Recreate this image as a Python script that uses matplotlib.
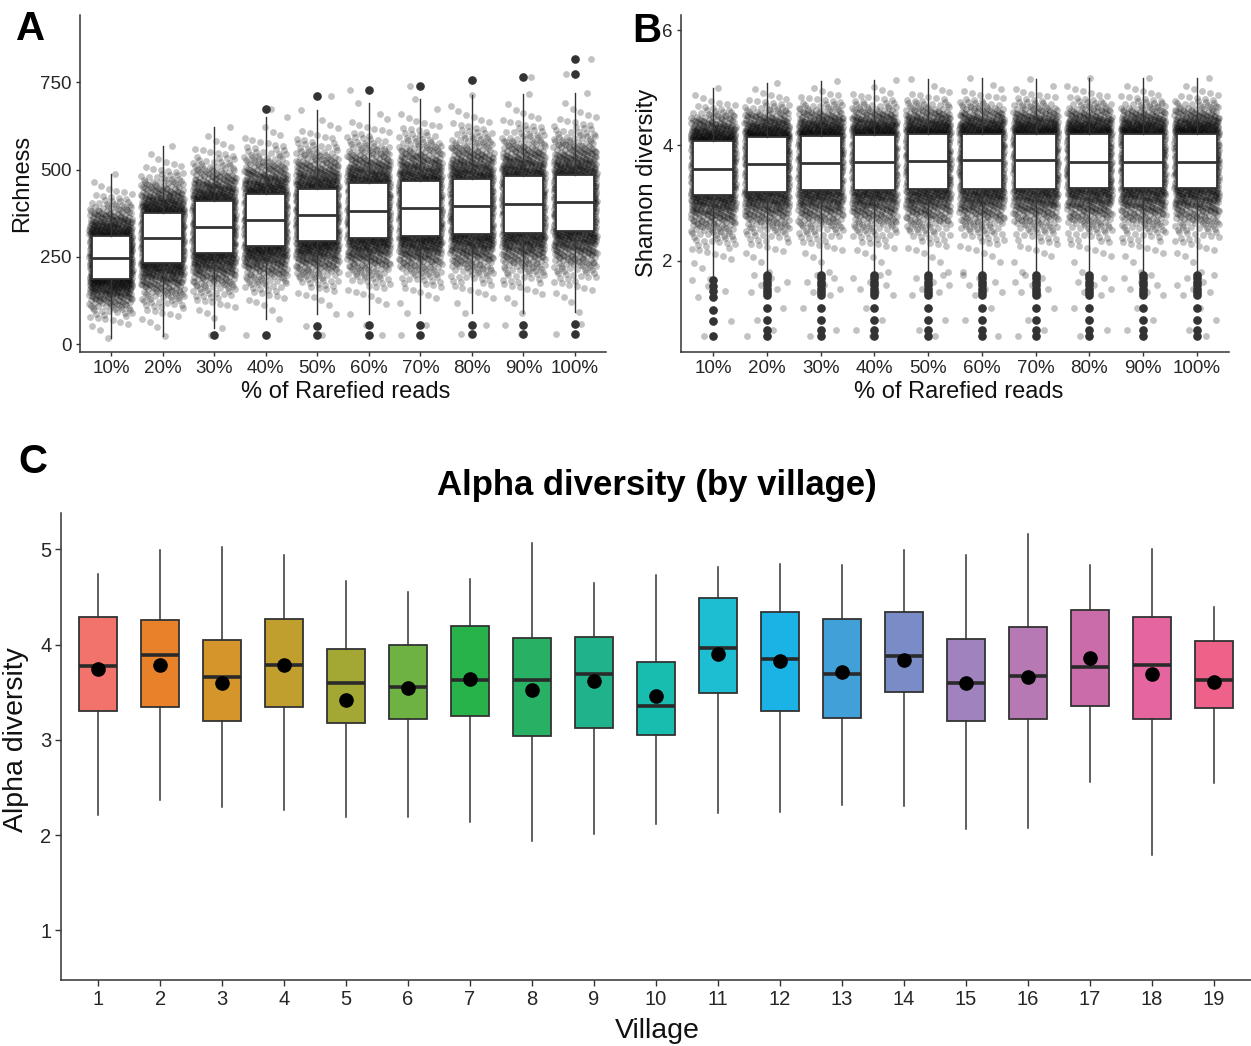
import numpy as np
import matplotlib
matplotlib.use("Agg")
import matplotlib.pyplot as plt
from statistics import NormalDist

plt.rcParams['font.family'] = ['Liberation Sans', 'DejaVu Sans']

# ---------------------------------------------------------------- data
depth_labels = ['10%', '20%', '30%', '40%', '50%', '60%', '70%', '80%', '90%', '100%']

# Richness by rarefaction depth (box statistics)
rich_whislo = [19, 24, 48, 71, 86, 86, 90, 90, 90, 92]
rich_q1 = [187.5, 234, 262, 281, 295, 305.5, 309, 316, 319, 324.5]
rich_med = [247, 303.6, 335, 357, 371, 381, 390, 395, 400, 406]
rich_q3 = [309, 375, 409, 431, 445, 461, 468, 474, 481, 483]
rich_whishi = [487, 568, 623, 649, 671, 689, 703, 713, 716, 719]
rich_fliers = [[], [], [26], [673, 26], [709, 52, 28], [728, 54, 28],
               [740, 54, 28], [756, 56, 29], [766, 56, 29], [816, 774, 59, 29]]

# Shannon diversity by rarefaction depth (box statistics)
sh_whislo = [1.69, 1.80, 1.80, 1.80, 1.80, 1.80, 1.80, 1.80, 1.80, 1.80]
sh_q1 = [3.134, 3.20, 3.22, 3.226, 3.24, 3.243, 3.25, 3.255, 3.255, 3.255]
sh_med = [3.594, 3.675, 3.70, 3.715, 3.73, 3.744, 3.744, 3.715, 3.715, 3.715]
sh_q3 = [4.07, 4.14, 4.17, 4.18, 4.19, 4.19, 4.20, 4.20, 4.20, 4.20]
sh_whishi = [4.99, 5.09, 5.12, 5.14, 5.15, 5.165, 5.155, 5.16, 5.16, 5.16]
sh_fliers_first = [1.66, 1.57, 1.48, 1.37, 1.155, 0.95, 0.695]
sh_fliers_rest = [1.76, 1.70, 1.64, 1.58, 1.52, 1.46, 1.40, 1.18, 0.98, 0.80, 0.70]
sh_fliers = [sh_fliers_first] + [sh_fliers_rest] * 9

# Alpha diversity by village (box statistics and means)
villages = [str(v) for v in range(1, 20)]
vil_whislo = [2.21, 2.364, 2.29, 2.265, 2.19, 2.19, 2.138, 1.94, 2.007, 2.12,
              2.236, 2.244, 2.313, 2.305, 2.065, 2.073, 2.556, 1.789, 2.545]
vil_q1 = [3.298, 3.345, 3.20, 3.345, 3.175, 3.218, 3.255, 3.04, 3.127, 3.047,
          3.495, 3.305, 3.225, 3.498, 3.193, 3.215, 3.36, 3.222, 3.335]
vil_med = [3.77, 3.887, 3.66, 3.79, 3.596, 3.556, 3.63, 3.63, 3.695, 3.36,
           3.96, 3.844, 3.687, 3.876, 3.60, 3.665, 3.764, 3.79, 3.63]
vil_q3 = [4.29, 4.26, 4.047, 4.265, 3.95, 3.99, 4.19, 4.073, 4.08, 3.814,
          4.484, 4.338, 4.27, 4.345, 4.055, 4.18, 4.364, 4.287, 4.036]
vil_whishi = [4.745, 4.99, 5.025, 4.935, 4.67, 4.553, 4.687, 5.06, 4.644, 4.727,
              4.818, 4.847, 4.83, 4.996, 4.935, 5.164, 4.833, 5.0, 4.393]
vil_mean = [3.745, 3.78, 3.60, 3.78, 3.418, 3.549, 3.633, 3.527, 3.618, 3.465,
            3.905, 3.822, 3.716, 3.84, 3.596, 3.658, 3.858, 3.687, 3.611]
vil_colors = ['#F2736B', '#E8822A', '#D4952A', '#C19F2E', '#A3A734', '#6FB244',
              '#27B24A', '#28B064', '#20B38B', '#19BDB0', '#1DBDD2', '#1BB2E6',
              '#41A0D8', '#7A8CC8', '#A083BE', '#B679B3', '#C96CA9', '#E565A0',
              '#EE6188']

# ---------------------------------------------------------------- helpers
W, H = 1251, 1046
DPI = 100
dark = '#333333'


def spread_points(lo, q1, med, q3, hi, n, shift):
    """Deterministic jittered layout following the box quantiles."""
    nd = NormalDist()
    z = np.array([nd.inv_cdf((k + 0.5) / n) for k in range(n)])
    zq = nd.inv_cdf(0.75)
    y_sorted = np.interp(z, [z[0], -zq, 0.0, zq, z[-1]], [lo, q1, med, q3, hi])
    i = np.arange(n)
    y = y_sorted[(i * 7919 + 31) % n]
    x = ((i * 0.6180339887 + shift) % 1.0 - 0.5) * 0.84
    return x, y


def box_stats(lo, q1, med, q3, hi, fl):
    return [dict(whislo=a, q1=b, med=c, q3=d, whishi=e, fliers=np.asarray(f, float))
            for a, b, c, d, e, f in zip(lo, q1, med, q3, hi, fl)]


def axes_px(left, top, right, bottom):
    return [left / W, 1 - bottom / H, (right - left) / W, (bottom - top) / H]


def style_axes(ax, tick_size, tick_len, pad):
    for s in ('top', 'right'):
        ax.spines[s].set_visible(False)
    for s in ('left', 'bottom'):
        ax.spines[s].set_color(dark)
        ax.spines[s].set_linewidth(1.1)
    ax.tick_params(axis='both', colors=dark, labelcolor='#262626',
                   labelsize=tick_size, length=tick_len, width=1.0, pad=pad)


fig = plt.figure(figsize=(W / DPI, H / DPI), dpi=DPI)


def jitter_panel(ax, lo, q1, med, q3, hi, fl, n):
    pos = np.arange(1, len(lo) + 1)
    for k, p in enumerate(pos):
        x, y = spread_points(lo[k], q1[k], med[k], q3[k], hi[k], n, 0.13 * k)
        if len(fl[k]):
            fx = ((np.arange(len(fl[k])) * 0.382 + 0.21 * k) % 1.0 - 0.5) * 0.8
            x = np.concatenate([x, fx])
            y = np.concatenate([y, fl[k]])
        ax.scatter(p + x, y, s=24, color='black', alpha=0.24, linewidths=0,
                   zorder=1)
    ax.bxp(box_stats(lo, q1, med, q3, hi, fl), positions=pos, widths=0.75,
           patch_artist=True, showcaps=False, zorder=3,
           boxprops=dict(facecolor='white', edgecolor=dark, linewidth=1.3),
           medianprops=dict(color=dark, linewidth=2.0),
           whiskerprops=dict(color=dark, linewidth=1.0),
           flierprops=dict(marker='o', markerfacecolor=dark, markeredgecolor=dark,
                           markersize=5.2, linestyle='none'))
    ax.set_xticks(pos)
    ax.set_xticklabels(depth_labels)
    ax.set_xlim(0.4, 10.6)


# ---------------------------------------------------------------- panel A
axA = fig.add_axes(axes_px(80, 15, 606, 352))
jitter_panel(axA, rich_whislo, rich_q1, rich_med, rich_q3, rich_whishi, rich_fliers, 850)
axA.set_ylim(-22, 942)
axA.set_yticks([0, 250, 500, 750])
style_axes(axA, 13.5, 3, 3)
fig.text(22 / W, 1 - 183 / H, 'Richness', rotation=90, ha='center', va='center',
         fontsize=17, color='#111111')
fig.text(346 / W, 1 - 392 / H, '% of Rarefied reads', ha='center', va='center',
         fontsize=17, color='#111111')

# ---------------------------------------------------------------- panel B
axB = fig.add_axes(axes_px(681, 15, 1229, 352))
jitter_panel(axB, sh_whislo, sh_q1, sh_med, sh_q3, sh_whishi, sh_fliers, 850)
axB.set_ylim(0.42, 6.26)
axB.set_yticks([2, 4, 6])
style_axes(axB, 13.5, 3, 3)
fig.text(647 / W, 1 - 183 / H, 'Shannon diversity', rotation=90, ha='center',
         va='center', fontsize=17, color='#111111')
fig.text(959 / W, 1 - 392 / H, '% of Rarefied reads', ha='center', va='center',
         fontsize=17, color='#111111')

# ---------------------------------------------------------------- panel C
axC = fig.add_axes(axes_px(61, 513, 1251, 980))
pos = np.arange(1, len(villages) + 1)
bp = axC.bxp(box_stats(vil_whislo, vil_q1, vil_med, vil_q3, vil_whishi,
                       [[]] * len(villages)),
             positions=pos, widths=0.61, patch_artist=True, showcaps=False,
             showfliers=False, zorder=2,
             boxprops=dict(edgecolor=dark, linewidth=1.3),
             medianprops=dict(color='#2a2a2a', linewidth=2.6),
             whiskerprops=dict(color=dark, linewidth=1.1))
for patch, col in zip(bp['boxes'], vil_colors):
    patch.set_facecolor(col)
axC.plot(pos, vil_mean, 'o', color='black', markersize=9.5, zorder=4)
axC.set_xlim(0.4, 19.6)
axC.set_ylim(0.48, 5.38)
axC.set_xticks(pos)
axC.set_xticklabels(villages)
axC.set_yticks([1, 2, 3, 4, 5])
style_axes(axC, 14.5, 4, 3)
fig.text(16 / W, 1 - 740 / H, 'Alpha diversity', rotation=90, ha='center',
         va='center', fontsize=20.5, color='#111111')
fig.text(657 / W, 1 - 1031 / H, 'Village', ha='center', va='center',
         fontsize=20.5, color='#111111')
fig.text(657 / W, 1 - 485 / H, 'Alpha diversity (by village)', ha='center',
         va='center', fontsize=25, fontweight='bold', color='black')

# ---------------------------------------------------------------- panel tags
for tag, x, y in (('A', 16, 40), ('B', 632, 42), ('C', 18, 473)):
    fig.text(x / W, 1 - y / H, tag, ha='left', va='baseline', fontsize=29,
             fontweight='bold', color='black')

fig.savefig('out.png', dpi=DPI)
